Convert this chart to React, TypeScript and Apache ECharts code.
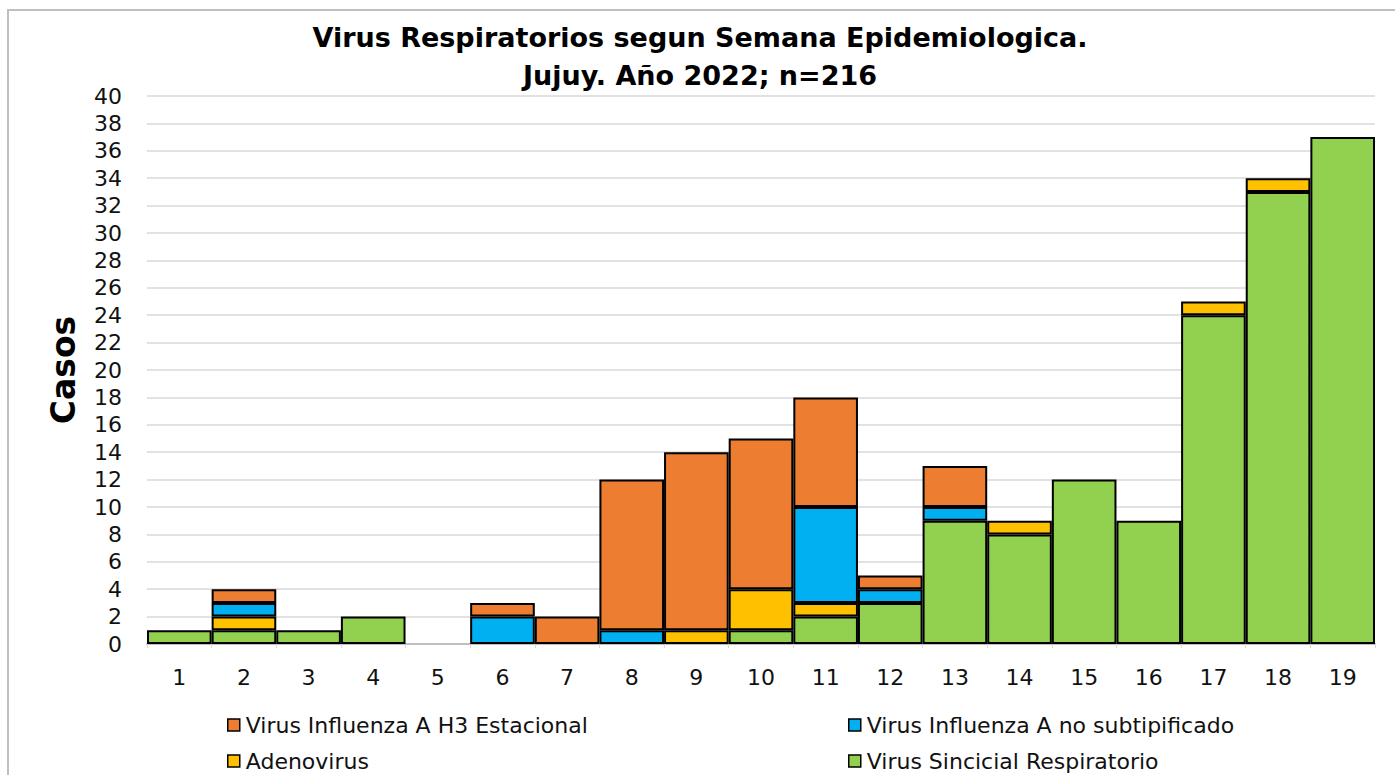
import React, { useEffect, useRef } from "react";
import * as echarts from "echarts";

const weeks = ["1", "2", "3", "4", "5", "6", "7", "8", "9", "10", "11", "12", "13", "14", "15", "16", "17", "18", "19"];
const vsr = [1, 1, 1, 2, 0, 0, 0, 0, 0, 1, 2, 3, 9, 8, 12, 9, 24, 33, 37];
const adeno = [0, 1, 0, 0, 0, 0, 0, 0, 1, 3, 1, 0, 0, 1, 0, 0, 1, 1, 0];
const fluANoSub = [0, 1, 0, 0, 0, 2, 0, 1, 0, 0, 7, 1, 1, 0, 0, 0, 0, 0, 0];
const fluAH3 = [0, 1, 0, 0, 0, 1, 2, 11, 13, 11, 8, 1, 3, 0, 0, 0, 0, 0, 0];
const yTicks = { min: 0, max: 40, interval: 2 };

const names = {
  h3: "Virus Influenza A H3 Estacional",
  nosub: "Virus Influenza A no subtipificado",
  adeno: "Adenovirus",
  vsr: "Virus Sincicial Respiratorio",
};
const colors = { h3: "#ED7D31", nosub: "#00B0F0", adeno: "#FFC000", vsr: "#92D050" };

const FONT = "'DejaVu Sans', sans-serif";

const toData = (arr: number[]) => arr.map((v) => (v === 0 ? "-" : v));

export default function App() {
  const ref = useRef<HTMLDivElement>(null);
  useEffect(() => {
    if (!ref.current) return;
    const chart = echarts.init(ref.current, null, { renderer: "svg" });
    const mk = (key: keyof typeof names, arr: number[]) => ({
      name: names[key],
      type: "bar",
      stack: "total",
      barCategoryGap: "0%",
      data: toData(arr),
      itemStyle: { color: colors[key], borderColor: "#000", borderWidth: 2 },
    });
    const legendBase = {
      icon: "rect",
      itemWidth: 12,
      itemHeight: 12,
      itemGap: 6,
      padding: 0,
      textStyle: { fontFamily: FONT, fontSize: 22, color: "#111", padding: [0, 0, 0, 1] },
      itemStyle: { borderColor: "#000", borderWidth: 1.5 },
    };
    chart.setOption({
      animation: false,
      backgroundColor: "#fff",
      textStyle: { fontFamily: FONT },
      title: {
        text: "Virus Respiratorios segun Semana Epidemiologica.\nJujuy. Año 2022; n=216",
        left: 695,
        top: 13,
        textAlign: "center",
        textStyle: { fontFamily: FONT, fontSize: 27, fontWeight: "bold", color: "#000", lineHeight: 38 },
      },
      legend: [
        { ...legendBase, data: [names.h3], left: 227, top: 714 },
        { ...legendBase, data: [names.nosub], left: 848, top: 714 },
        { ...legendBase, data: [names.adeno], left: 227, top: 750 },
        { ...legendBase, data: [names.vsr], left: 848, top: 750 },
      ],
      grid: { left: 147, right: 20, top: 96, bottom: 131, containLabel: false },
      xAxis: {
        type: "category",
        data: weeks,
        axisLine: { lineStyle: { color: "#BFBFBF", width: 2 } },
        axisTick: { show: true, length: 4, lineStyle: { color: "#D9D9D9" } },
        axisLabel: { fontFamily: FONT, fontSize: 22, color: "#111", margin: 22 },
      },
      yAxis: {
        type: "value",
        min: yTicks.min,
        max: yTicks.max,
        interval: yTicks.interval,
        name: "Casos",
        nameLocation: "middle",
        nameRotate: 90,
        nameGap: 67,
        nameTextStyle: { fontFamily: FONT, fontSize: 33, fontWeight: "bold", color: "#000" },
        axisLine: { show: false },
        axisTick: { show: false },
        axisLabel: { fontFamily: FONT, fontSize: 22, color: "#111", margin: 25 },
        splitLine: { lineStyle: { color: "#D9D9D9", width: 1.5 } },
      },
      graphic: [
        {
          type: "rect",
          shape: { x: 8, y: 10, width: 1500, height: 900 },
          style: { fill: "none", stroke: "#BFBFBF", lineWidth: 2 },
          silent: true,
          z: -1,
        },
      ],
      series: [mk("vsr", vsr), mk("adeno", adeno), mk("nosub", fluANoSub), mk("h3", fluAH3)],
    });
    return () => chart.dispose();
  }, []);
  return <div ref={ref} style={{ position: "absolute", left: 0, top: 0, width: 1395, height: 775 }} />;
}
